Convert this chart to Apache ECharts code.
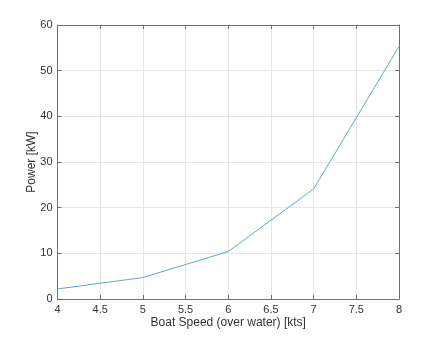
<!DOCTYPE html>
<html>
<head>
<meta charset="utf-8">
<script src="https://cdn.jsdelivr.net/npm/echarts@6/dist/echarts.min.js"></script>
<style>
html, body { margin: 0; padding: 0; background: #fff; }
#chart { width: 441px; height: 337px; }
</style>
</head>
<body>
<div id="chart"></div>
<script>
// Boat speed through the water (kts) and required power (kW)
const speedKts = [4, 5, 6, 7, 8];
const powerKW = [2.2, 4.7, 10.4, 24.1, 55.3];

const FONT = '"Liberation Sans", Arial, Helvetica, sans-serif';
const AXIS_GRAY = '#6e6e6e';
const TEXT_GRAY = '#333333';

const points = speedKts.map((s, i) => [s, powerKW[i]]);

const boxAxisCommon = {
  type: 'value',
  axisLine: { show: true, onZero: false, lineStyle: { color: AXIS_GRAY, width: 1 } },
  axisTick: { show: true, inside: true, length: 4, lineStyle: { color: AXIS_GRAY } },
  axisLabel: { show: false },
  splitLine: { show: false }
};

const chart = echarts.init(document.getElementById('chart'), null, { renderer: 'canvas' });
chart.setOption({
  animation: false,
  backgroundColor: '#ffffff',
  grid: { left: 57.5, right: 42, top: 25, bottom: 38, containLabel: false },
  xAxis: [
    {
      type: 'value', min: 4, max: 8, interval: 0.5,
      name: 'Boat Speed (over water) [kts]',
      nameLocation: 'middle', nameGap: 18, nameMoveOverlap: false,
      nameTextStyle: { fontFamily: FONT, fontSize: 12, color: TEXT_GRAY },
      axisLine: { show: true, onZero: false, lineStyle: { color: AXIS_GRAY, width: 1 } },
      axisTick: { show: true, inside: true, length: 4, lineStyle: { color: AXIS_GRAY } },
      axisLabel: { fontFamily: FONT, fontSize: 11, color: TEXT_GRAY, margin: 5 },
      splitLine: { show: true, lineStyle: { color: '#e6e6e6', width: 1 } }
    },
    Object.assign({}, boxAxisCommon, { position: 'top', min: 4, max: 8, interval: 0.5 })
  ],
  yAxis: [
    {
      type: 'value', min: 0, max: 60, interval: 10,
      name: 'Power [kW]',
      nameLocation: 'middle', nameGap: 20, nameMoveOverlap: false,
      nameTextStyle: { fontFamily: FONT, fontSize: 12, color: TEXT_GRAY },
      axisLine: { show: true, onZero: false, lineStyle: { color: AXIS_GRAY, width: 1 } },
      axisTick: { show: true, inside: true, length: 4, lineStyle: { color: AXIS_GRAY } },
      axisLabel: { fontFamily: FONT, fontSize: 11, color: TEXT_GRAY, margin: 5 },
      splitLine: { show: true, lineStyle: { color: '#e6e6e6', width: 1 } }
    },
    Object.assign({}, boxAxisCommon, { position: 'right', min: 0, max: 60, interval: 10 })
  ],
  series: [{
    type: 'line',
    xAxisIndex: 0,
    yAxisIndex: 0,
    data: points,
    showSymbol: false,
    lineStyle: { color: '#5aa8de', width: 1 }
  }]
});
</script>
</body>
</html>
